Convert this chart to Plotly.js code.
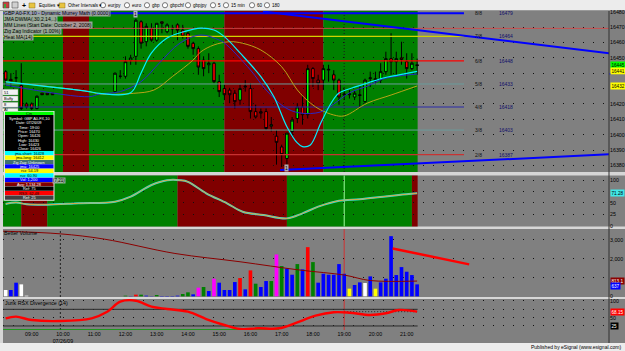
<!DOCTYPE html>
<html><head><meta charset="utf-8">
<script src="https://cdn.plot.ly/plotly-3.0.1.min.js"></script>
<style>html,body{margin:0;padding:0;background:#d6d6d6;}#chart{width:625px;height:351px;}</style>
</head><body><div id="chart"></div>
<script>
// ================= DATA =================
const hourTicks = [9,10,11,12,13,14,15,16,17,18,19,20,21];
const hourLabels = ["09:00","10:00<br>07/26/09","11:00","12:00","13:00","14:00","15:00","16:00","17:00","18:00","19:00","20:00","21:00"];

const barTime = ["08:10","08:20","08:30","08:40","08:50","09:00","09:10","09:20","09:30","09:40",
"11:40","11:50","12:00","12:10","12:20","12:30","12:40","12:50","13:00","13:10","13:20","13:30","13:40","13:50",
"14:00","14:10","14:20","14:30","14:40","14:50","15:00","15:10","15:20","15:30","15:40","15:50",
"16:00","16:10","16:20","16:30","16:40","16:50","17:00","17:10","17:20","17:30","17:40","17:50",
"18:00","18:10","18:20","18:30","18:40","18:50","19:00","19:10","19:20","19:30","19:40","19:50",
"20:00","20:10","20:20","20:30","20:40","20:50","21:00","21:10","21:20"];
const openP = [16441,16436,16437,16432,16420,16420,16417,16427,16427,16427,
16428,16438,16438,16448.5,16451,16473.5,16460.5,16469,16461.5,16473.5,16467,16469,16471.5,16468,
16466,16459.5,16456,16448.5,16445.5,16446.5,16434.5,16430,16429,16427,16422.5,16431,
16430,16415,16415,16415,16405.5,16399,16392,16384.5,16402,16410.5,16418,16413,
16443,16435.5,16435.5,16442,16439,16435.5,16426.5,16426,16424.5,16426,16421.5,16436.5,
16434.5,16435.5,16441,16449.5,16447.5,16450,16447.5,16443,16445.5];
const highP = [16442,16440,16442,16446.5,16421,16421,16425.5,16427,16427,16427,
16440.5,16442,16451,16452,16475.5,16474.5,16472.5,16472.5,16472.5,16473.5,16472.5,16471.5,16472.5,16471.5,
16467,16460.5,16457.5,16451,16453,16447.5,16439,16432.5,16430.5,16429,16432.5,16435.5,
16433.5,16419.5,16417,16417,16411.5,16403,16393.5,16401,16411.5,16420.5,16426,16445.5,
16444,16439,16445.5,16445.5,16442,16436.5,16430,16429,16429,16432.5,16436.5,16441,
16441,16446.5,16454,16466,16454,16460.5,16453,16453,16449.5];
const lowP = [16432,16431,16434,16416,16417,16416,16416.5,16426,16426,16426,
16427.5,16436.5,16436.5,16445.5,16445.5,16456,16457.5,16460.5,16460.5,16466,16466,16464,16461.5,16462.5,
16456,16452,16439,16438,16440,16433.5,16424.5,16422.5,16420.5,16417,16419.5,16428,
16410.5,16410.5,16410.5,16403,16402,16380.5,16379,16380.5,16398.5,16407.5,16406.5,16410.5,
16431,16429,16429,16434.5,16429,16419.5,16422.5,16423.5,16422.5,16417,16420.5,16431,
16432.5,16433.5,16439,16439,16439,16445.5,16436.5,16442,16439];
const closeP = [16435.5,16435,16437,16417,16418,16417,16425,16426,16426,16426,
16440,16438,16447.5,16450,16474.5,16459.5,16470.5,16461.5,16472.5,16472.5,16471.5,16469,16468,16464,
16457.5,16456,16444,16443,16446.5,16434.5,16428,16426,16426,16421.5,16430,16431.5,
16415,16411.5,16414,16404,16406.5,16395,16387,16401,16409.5,16418,16413,16443,
16436.5,16433.5,16443,16442.5,16435.5,16424.5,16426,16426.5,16427,16425.5,16435.5,16437,
16436.5,16441,16449.5,16447.5,16449.5,16449,16443,16446.5,16445];
const volume = [336,336,726,637,35,0,0,0,0,0,
0,0,35,10,88,88,35,10,70,18,18,18,35,124,
212,106,460,496,283,938,726,336,336,761,973,372,
1381,673,496,814,814,2230,1611,1487,1150,1717,1434,2619,
1823,726,1204,1150,1150,1717,1200,407,602,743,708,1062,
407,743,938,3204,1133,1557,1310,1133,637];
const volClass = ["W","B","B","W","W","B","B","B","B","B",
"B","B","G","B","R","G","B","B","G","B","B","B","B","G",
"G","B","M","G","B","M","B","B","B","B","R","B",
"R","G","B","B","G","M","G","B","B","G","B","R",
"G","B","B","B","B","B","B","Y","B","B","W","B",
"Y","B","B","B","B","B","B","B","B"];

// moving averages (main panel)
const jmaFastT = ["08:10","10:50","11:10","12:10","12:30","12:50","13:20","13:50","14:25","14:50","15:10","15:40","16:20","16:45","17:10","17:30","17:40","17:55","18:15","18:35","18:50","19:15","19:45","20:15","20:45","21:20"];
const jmaFastV = [16434.3,16428.0,16426.9,16427.3,16440.2,16453.2,16462.9,16466.8,16469.4,16468.1,16463.8,16453.2,16437.8,16424.7,16405.2,16394.6,16392.2,16393.3,16407.6,16420.6,16427.1,16430.4,16433.6,16436.9,16438.9,16441.2];
const jmaMidT = ["08:10","10:50","11:10","11:50","12:30","13:05","13:45","14:25","15:00","15:10","16:00","16:30","17:05","17:35","18:15","18:40","19:10","19:45","20:15","20:45","21:20"];
const jmaMidV = [16432.3,16424.7,16426.5,16428.0,16434.5,16446.6,16459.7,16464.9,16461.6,16459.7,16442.1,16429.1,16418.0,16414.1,16414.8,16420.0,16427.2,16431.7,16436.3,16438.2,16439.5];
const jmaSlowT = ["08:10","10:50","11:10","12:15","12:55","13:30","14:10","14:25","14:50","15:20","15:45","16:20","17:00","17:30","17:55","18:15","18:40","19:00","19:45","20:30","21:20"];
const jmaSlowV = [16434.5,16428.0,16426.5,16426.9,16429.1,16437.8,16448.6,16454.0,16458.4,16460.5,16459.5,16455.1,16444.2,16429.1,16420.6,16416.1,16412.8,16412.2,16420.6,16425.8,16431.7];

// Murrey Math lines
const mmNames = ["8/8","7/8","6/8","5/8","4/8","3/8","2/8"];
const mmLevels = [16479,16464,16448,16433,16418,16403,16387];
const mmStart = "08:05", mmEnd = "22:50";
const dayHighLevel = 16469.2;
// trend lines (hours, price)
const trendDownX = [16.40, 27.50], trendDownY = [16480.2, 16453.0];
const trendUpX = [16.95, 27.50], trendUpY = [16377.0, 16387.2];

const priceTicks = [16380,16390,16400,16410,16420,16430,16440,16450,16460,16470,16480];
const priceLabels = ["16380","16390","16400","16410","16420","","","16450","16460","16470","16480"];

// background state bands
const mainBands = [["08:05","10:00","g"],["10:00","10:50","r"],["10:50","15:10","g"],["15:10","18:20","r"],["18:20","21:21","g"]];
const oscBands = [["08:05","08:40","g"],["08:40","09:30","r"],["09:30","13:40","g"],["13:40","17:10","r"],["17:10","21:10","g"],["21:10","21:21","r"]];

// oscillator panel
const oscT = ["08:10","08:30","08:50","09:30","10:30","11:40","12:10","12:50","13:20","13:45","14:00","14:35","15:15","15:45","16:25","17:10","17:40","18:10","18:50","19:30","20:15","20:45","21:20"];
const oscV = [47.7,50.6,47,46,49,52.5,63.5,89,99.5,99.5,96,71,49,30.6,23.4,16,27,41.6,54.7,57.8,63.5,67.2,70.9];

// volume average + trend
const volAvgT = ["08:05","09:55","11:20","13:35","15:40","17:35","19:00","19:50","21:20"];
const volAvgV = [3469,3327,3044,2283,1841,1398,1133,840,813];
const volTrendX = ["20:33","23:00"], volTrendY = [2549,1700];

// Jurik RSX
const rsxT = ["08:10","08:30","09:00","09:55","10:55","11:25","11:50","12:20","12:50","13:20","14:00","14:35","15:10","15:40","16:15","16:55","17:25","18:05","18:40","19:10","19:50","20:20","20:45","21:20"];
const rsxV = [48.0,52.9,42.9,39.9,48.0,67.9,97.9,100.9,82.9,76.0,67.9,45.9,27.9,15.9,18.0,18.0,33.0,55.9,66.1,64.9,58.0,63.1,73.0,68.2];
const rsxUpper = 75, rsxLower = 25, rsxBase = 13.6;
const rsxBaseEnd = "16:55";
const rsxDivX = ["19:00","21:20"], rsxDivY = [67.9,67.9];
const cursorTime = "19:00", daySep = "09:55";

// data window text
const dwBlack = ["Symbol: GBP A0-FX,10","Date: 07/26/09","Time: 19:00","Price: 16470","Open: 16426","High: 16430","Low: 16423","Close: 16426"];
const dwColored = [["#00ffff","#000","jma-short: 16428"],["#ffff00","#000","jma-long: 16412"],["#3f7070","#fff","Zig Zag: Unknown"],["#0000ff","#fff","jma: 16425"],["#ffff00","#000","rsx: 54.19"],["#00ffff","#000","rsx: 60.90"],["#0000ff","#fff","Vol: 1,200"],["#800000","#fff","Avg: 1,134.28"],["#000000","#fff","Ref: 75"],["#ff0000","#000","RSX: 62.48"],["#404040","#fff","Ref: 25"]];
const headerLines = ["GBP A0-FX,10 - Dynamic Murrey Math (0.0000)","JMA DWMA(,30,2,14,..)","MM Lines (Start Date: October 2, 2008)","Zig Zag Indicator (1.00%)","Heat MA(14)"];
const toolbarItems = ["eurjpy","euro","gbp","gbpchf","gbpjpy","5","15 min","60","180"];

// ================= BUILD =================
const T = s => { const p = s.split(':'); return (+p[0]) + (+p[1])/60; };
const ML=3, MT=11, PW=606, PH=319;
const PX = x => (x-ML)/PW;
const PY = y => (MT+PH-y)/PH;
const FONT = "Liberation Sans, Arial, sans-serif";

const traces = [];
traces.push({type:'candlestick', x: barTime.map(T), open: openP, high: highP, low: lowP, close: closeP,
  xaxis:'x', yaxis:'y', whiskerwidth:0, hoverinfo:'skip',
  increasing:{line:{color:'#000000',width:1}, fillcolor:'#00ff00'},
  decreasing:{line:{color:'#000000',width:1}, fillcolor:'#ff0000'}});
const mmColors = ['#0000ff','#d2d200','#ff0000','#6a9c9c','#2a2aa8','#6a9c9c','#c83232'];
const mmWidths = [2,1.3,1.2,1,1.1,1,1.2];
mmLevels.forEach((lv,i)=>{
  traces.push({type:'scatter', mode:'lines', x:[T(mmStart),T(mmEnd)], y:[lv,lv], yaxis:'y',
    line:{color:mmColors[i], width:mmWidths[i]}, hoverinfo:'skip'});
});
traces.push({type:'scatter', mode:'lines', x:[8,28], y:[dayHighLevel,dayHighLevel], yaxis:'y', line:{color:'#d04848',width:0.9}, hoverinfo:'skip'});
traces.push({type:'scatter', mode:'lines', x:trendDownX, y:trendDownY, yaxis:'y', line:{color:'#0000ff',width:2}, hoverinfo:'skip'});
traces.push({type:'scatter', mode:'lines', x:trendUpX, y:trendUpY, yaxis:'y', line:{color:'#0000ff',width:2}, hoverinfo:'skip'});
traces.push({type:'scatter', mode:'lines', x:jmaSlowT.map(T), y:jmaSlowV, yaxis:'y', line:{color:'#b8a418',width:1,shape:'spline',smoothing:1}, hoverinfo:'skip'});
traces.push({type:'scatter', mode:'lines', x:jmaMidT.map(T), y:jmaMidV, yaxis:'y', line:{color:'#2828c8',width:1,shape:'spline',smoothing:1}, hoverinfo:'skip'});
traces.push({type:'scatter', mode:'lines', x:jmaFastT.map(T), y:jmaFastV, yaxis:'y', line:{color:'#00f0ff',width:1.2,shape:'spline',smoothing:1}, hoverinfo:'skip'});
traces.push({type:'scatter', mode:'lines', x:oscT.map(T), y:oscV, yaxis:'y2', line:{color:'#30e0e0',width:2,shape:'spline'}, hoverinfo:'skip'});
traces.push({type:'scatter', mode:'lines', x:oscT.map(T), y:oscV, yaxis:'y2', line:{color:'#f0a030',width:0.9,shape:'spline'}, hoverinfo:'skip'});
const vcol = {W:'#ffffff',B:'#0000ff',G:'#008000',R:'#ff0000',M:'#ff00ff',Y:'#ffff00'};
traces.push({type:'bar', x: barTime.map(T), y: volume, yaxis:'y3', marker:{color: volClass.map(c=>vcol[c]), line:{width:0}}, hoverinfo:'skip'});
traces.push({type:'scatter', mode:'lines', x:volAvgT.map(T), y:volAvgV, yaxis:'y3', line:{color:'#8b0000',width:1,shape:'spline'}, hoverinfo:'skip'});
traces.push({type:'scatter', mode:'lines', x:volTrendX.map(T), y:volTrendY, yaxis:'y3', line:{color:'#ff0000',width:2.5}, hoverinfo:'skip'});
traces.push({type:'scatter', mode:'lines', x:[T("08:05"),T("21:21")], y:[rsxUpper,rsxUpper], yaxis:'y4', line:{color:'#2a2a2a',width:1}, hoverinfo:'skip'});
traces.push({type:'scatter', mode:'lines', x:[T("08:05"),T("21:21")], y:[rsxLower,rsxLower], yaxis:'y4', line:{color:'#2a2a2a',width:1}, hoverinfo:'skip'});
traces.push({type:'scatter', mode:'lines', x:[T("08:05"),T(rsxBaseEnd)], y:[rsxBase,rsxBase], yaxis:'y4', line:{color:'#00a000',width:1.2}, hoverinfo:'skip'});
traces.push({type:'scatter', mode:'lines', x:rsxDivX.map(T), y:rsxDivY, yaxis:'y4', line:{color:'#202020',width:1,dash:'1px,2px'}, hoverinfo:'skip'});
traces.push({type:'scatter', mode:'lines', x:rsxT.map(T), y:rsxV, yaxis:'y4', line:{color:'#ff0000',width:2.4,shape:'spline'}, hoverinfo:'skip'});

// ---------- shapes ----------
const shapes = [];
const prect = (x0,y0,x1,y1,fill,layer,lc,lw) => shapes.push({type:'rect', xref:'paper', yref:'paper', x0:PX(x0), x1:PX(x1), y0:PY(y1), y1:PY(y0), fillcolor:fill, line:{color:lc||fill, width:lw||0}, layer:layer||'below'});
[[11,172],[175.5,226.5],[229,297],[299,343]].forEach(p=>prect(3,p[0],625,p[1],'#808080','below'));
prect(-1,-1,626,10,'#ececec','below');
prect(0,10,626,11,'#9a9a9a','below');
prect(-1,343,626,352,'#ececec','below');
shapes.push({type:'line', xref:'paper', yref:'paper', x0:PX(609), x1:PX(609), y0:PY(11), y1:PY(343), line:{color:'#303030',width:1}, layer:'above'});
const bcol = {g:'#008000', r:'#800000'};
mainBands.forEach(b=>shapes.push({type:'rect', xref:'x', yref:'y domain', x0:T(b[0]), x1:T(b[1]), y0:0, y1:1, fillcolor:bcol[b[2]], line:{width:0}, layer:'below'}));
oscBands.forEach(b=>shapes.push({type:'rect', xref:'x', yref:'y2 domain', x0:T(b[0]), x1:T(b[1]), y0:0, y1:1, fillcolor:bcol[b[2]], line:{width:0}, layer:'below'}));
shapes.push({type:'line', xref:'x', yref:'y domain', x0:T(cursorTime), x1:T(cursorTime), y0:0, y1:1, line:{color:'#1a1a1a',width:1,dash:'1px,2px'}, layer:'below'});
shapes.push({type:'line', xref:'x', yref:'y2 domain', x0:T(cursorTime), x1:T(cursorTime), y0:0, y1:1, line:{color:'#a0ffa0',width:1}, layer:'below'});
shapes.push({type:'line', xref:'x', yref:'y3 domain', x0:T(cursorTime), x1:T(cursorTime), y0:0, y1:1, line:{color:'#e02020',width:0.8}, layer:'below'});
shapes.push({type:'line', xref:'x', yref:'y4 domain', x0:T(cursorTime), x1:T(cursorTime), y0:0, y1:1, line:{color:'#e02020',width:0.8}, layer:'below'});
shapes.push({type:'line', xref:'x', yref:'y3 domain', x0:T(daySep), x1:T(daySep), y0:0, y1:1, line:{color:'#202020',width:1,dash:'2px,2px'}, layer:'below'});
shapes.push({type:'line', xref:'x', yref:'y4 domain', x0:T(daySep), x1:T(daySep), y0:0, y1:1, line:{color:'#202020',width:1,dash:'2px,2px'}, layer:'below'});
shapes.push({type:'rect', xref:'paper', yref:'y', x0:PX(609.5), x1:PX(625), y0:16439.2, y1:16439.9, fillcolor:'#0000ff', line:{width:0}, layer:'above'});

// ---------- annotations ----------
const ann = [];
const ptext = (x,y,txt,opt) => ann.push(Object.assign({xref:'paper', yref:'paper', x:PX(x), y:PY(y), text:txt, showarrow:false, xanchor:'left', yanchor:'middle', font:{family:FONT,size:5.5,color:'#000'}, borderpad:0}, opt||{}));

prect(3,2,9,8,'#c84040','below','#404040',0.6);
prect(4,4,6,8,'#40a040','below');
prect(12,2,18,8,'#d0d0d0','below','#505050',0.6);
ptext(21,5.2,'<b>+</b>',{font:{family:FONT,size:7,color:'#000'}});
prect(29,3,35,8,'#e8c440','below','#8a7020',0.5);
ptext(37.5,5.5,'Equities ▾',{font:{family:FONT,size:4.6,color:'#000'}});
prect(59,3,65,8,'#e8c440','below','#8a7020',0.5);
ptext(66.5,5.5,'Other Intervals ▾',{font:{family:FONT,size:4.6,color:'#000'}});
const tbX = [103,127,147,165,188,213,226,252,267];
toolbarItems.forEach((t,i)=>{
  shapes.push({type:'circle', xref:'paper', yref:'paper', x0:PX(tbX[i]-2.6), x1:PX(tbX[i]+2.6), y0:PY(7.8), y1:PY(2.6), fillcolor:'#ffffff', line:{color:'#404040',width:0.7}, layer:'below'});
  ptext(tbX[i]+4,5.5,t,{font:{family:FONT,size:4.6,color:'#000'}});
});

const hdrY = [13, 19.3, 25, 30.7, 36.5];
headerLines.forEach((t,i)=>ptext(3,hdrY[i],t,{bgcolor:'rgba(175,175,175,0.85)', font:{family:FONT,size:5,color:'#000'}}));

ann.push({xref:'x', yref:'y', x:T("12:20"), y:16478.4, text:'1', showarrow:false, bgcolor:'#b0b0c8', font:{family:FONT,size:5,color:'#000'}, borderpad:0});
ann.push({xref:'x', yref:'y', x:T("17:10"), y:16378.5, text:'1', showarrow:false, bgcolor:'#b0b0b0', font:{family:FONT,size:5,color:'#000'}, borderpad:0});

mmLevels.forEach((lv,i)=>{
  ann.push({xref:'x', yref:'y', x:T("23:17"), y:lv, text:mmNames[i], showarrow:false, font:{family:FONT,size:5,color:'#101010'}});
  ann.push({xref:'x', yref:'y', x:T("24:11"), y:lv, text:String(lv), showarrow:false, font:{family:FONT,size:5,color:'#10106a'}});
});

const tag = (yref,v,txt,bg,fc) => ann.push({xref:'paper', yref:yref, x:PX(609.5), y:v, xanchor:'left', yanchor:'middle', text:txt, showarrow:false, bgcolor:bg, font:{family:FONT,size:4.6,color:fc||'#000'}, borderpad:0.5});
tag('y',16445.4,'16445','#00ff00');
tag('y',16441.2,'16441','#ffff00');
tag('y',16431.7,'16432','#ffff00');
tag('y2',70.9,'71.28','#40e8e8');
tag('y3',813,'813.1','#8b0000','#fff');
tag('y3',560,'637','#0000ff','#fff');
tag('y4',68.2,'68.15','#ff0000','#fff');
tag('y4',25.5,'25','#000000','#fff');

const smallBoxes = [[89.3,95,'51'],[96,101,'Buffy'],[102.3,107.3,'8'],[108.3,111.5,'Al']];
smallBoxes.forEach(b=>{prect(2,b[0],18,b[1],'#f2f2f2','above','#909090',0.4); ptext(3,(b[0]+b[1])/2,b[2],{font:{family:FONT,size:4,color:'#000'}});});

prect(3.5,111,54.5,200.8,'#e6e6e6','above');
prect(5,111.7,53.5,115,'#00ff00','above');
ptext(29,113.4,'Cin',{xanchor:'center',font:{family:FONT,size:4,color:'#000'}});
prect(5,115,53.5,151,'#000000','above');
dwBlack.forEach((t,i)=>ptext(29,118.6+i*4.3,t,{xanchor:'center',font:{family:FONT,size:3.9,color:'#ffffff'}}));
dwColored.forEach((r,i)=>{
  const y0 = 151 + i*4.45;
  prect(5,y0,53.5,y0+4.2,r[0],'above');
  ptext(29,y0+2.1,r[2],{xanchor:'center',font:{family:FONT,size:3.9,color:r[1]}});
});
ptext(66,180,'(7,21)',{xanchor:'right',bgcolor:'rgba(190,190,190,0.8)',font:{family:FONT,size:4.5,color:'#000'}});

ptext(3,232.6,'Better Volume',{font:{family:FONT,size:5.3,color:'#000'}});
ptext(4,303.3,'Jurik RSX Divergence (14)',{font:{family:FONT,size:5.3,color:'#000'}});
ptext(622,347.5,'Published by eSignal (www.esignal.com)',{xanchor:'right',font:{family:FONT,size:5,color:'#000'}});

const yCommon = {side:'right', anchor:'x', zeroline:false, showline:false, ticks:'', showgrid:true, gridcolor:'#101010', gridwidth:1, griddash:'1px,9px', tickfont:{family:FONT,size:5.3,color:'#000'}, fixedrange:true};
const layout = {
  width:625, height:351, margin:{l:3,r:16,t:11,b:21,pad:0},
  paper_bgcolor:'#d6d6d6', plot_bgcolor:'rgba(0,0,0,0)', showlegend:false,
  font:{family:FONT,size:6,color:'#000'}, bargap:0.3,
  xaxis:{range:[8.0816,27.4736], anchor:'y4', tickvals:hourTicks, ticktext:hourLabels, showgrid:false, zeroline:false, showline:false, ticks:'', tickfont:{family:FONT,size:5.3,color:'#000'}, rangeslider:{visible:false}, fixedrange:true},
  yaxis: Object.assign({}, yCommon, {domain:[0.4953,1], range:[16375.7,16480.5], tickvals:priceTicks, ticktext:priceLabels}),
  yaxis2: Object.assign({}, yCommon, {domain:[0.3245,0.4843], range:[-1.75,109.85], tickvals:[0,25,50,75,100], ticktext:['0','25','50','','100']}),
  yaxis3: Object.assign({}, yCommon, {domain:[0.1034,0.3166], range:[-37,3585], tickvals:[0,1000,2000,3000], ticktext:['0','','2,000','3,000']}),
  yaxis4: Object.assign({}, yCommon, {domain:[0,0.0972], range:[12.9,106], tickvals:[25,50,75,100], ticktext:['','50','','100']}),
  shapes: shapes, annotations: ann
};
Plotly.newPlot('chart', traces, layout, {staticPlot:true, displayModeBar:false});
</script>
</body></html>
